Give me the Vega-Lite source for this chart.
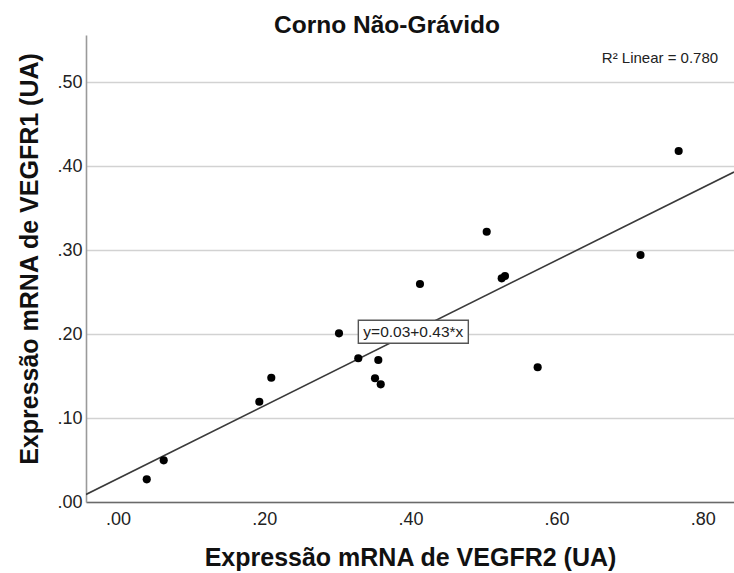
{
  "$schema": "https://vega.github.io/schema/vega-lite/v6.json",
  "autosize": {"type": "none"},
  "width": 648,
  "height": 467,
  "padding": {"left": 86, "top": 35, "right": 0, "bottom": 71},
  "background": "white",
  "config": {
    "font": "Liberation Sans",
    "view": {"stroke": null},
    "title": {"font": "Liberation Sans", "fontSize": 24.5, "fontWeight": "bold", "color": "#111", "anchor": "middle", "frame": "group"}
  },
  "title": {"text": "Corno Não-Grávido", "dx": -23, "dy": 9, "offset": 6},
  "datasets": {
    "pontos": [
      {"vegfr2": 0.0393, "vegfr1": 0.0270},
      {"vegfr2": 0.0625, "vegfr1": 0.0496},
      {"vegfr2": 0.1933, "vegfr1": 0.1194},
      {"vegfr2": 0.2097, "vegfr1": 0.1480},
      {"vegfr2": 0.3023, "vegfr1": 0.2008},
      {"vegfr2": 0.3287, "vegfr1": 0.1711},
      {"vegfr2": 0.3561, "vegfr1": 0.1690},
      {"vegfr2": 0.3516, "vegfr1": 0.1473},
      {"vegfr2": 0.3594, "vegfr1": 0.1401},
      {"vegfr2": 0.4131, "vegfr1": 0.2595},
      {"vegfr2": 0.5044, "vegfr1": 0.3218},
      {"vegfr2": 0.5249, "vegfr1": 0.2663},
      {"vegfr2": 0.5294, "vegfr1": 0.2690},
      {"vegfr2": 0.5741, "vegfr1": 0.1604},
      {"vegfr2": 0.7148, "vegfr1": 0.2940},
      {"vegfr2": 0.7670, "vegfr1": 0.4179}
    ],
    "ajuste": [
      {"vegfr2": -0.0438, "vegfr1": 0.0090},
      {"vegfr2": 0.8427, "vegfr1": 0.3929}
    ]
  },
  "layer": [
    {
      "data": {"name": "ajuste"},
      "mark": {"type": "line", "color": "#3a3a3a", "strokeWidth": 1.6, "clip": true},
      "encoding": {
        "x": {
          "field": "vegfr2", "type": "quantitative",
          "scale": {"domain": [-0.0438, 0.8427], "nice": false, "zero": false},
          "axis": {
            "title": "Expressão mRNA de VEGFR2 (UA)",
            "values": [0, 0.2, 0.4, 0.6, 0.8],
            "labelExpr": "substring(format(datum.value, '.2f'), 1)",
            "grid": false, "ticks": false,
            "domainColor": "#6a6a6a", "domainWidth": 1.6,
            "labelFont": "Liberation Sans", "labelFontSize": 18, "labelColor": "#222", "labelPadding": 8,
            "titleFont": "Liberation Sans", "titleFontSize": 25, "titleFontWeight": "bold", "titleColor": "#111",
            "titleBaseline": "alphabetic", "titleY": 63
          }
        },
        "y": {
          "field": "vegfr1", "type": "quantitative",
          "scale": {"domain": [0, 0.556], "nice": false},
          "axis": {
            "title": "Expressão mRNA de VEGFR1 (UA)",
            "values": [0, 0.1, 0.2, 0.3, 0.4, 0.5],
            "labelExpr": "substring(format(datum.value, '.2f'), 1)",
            "grid": true, "gridColor": "#d2d2d2", "gridWidth": 1.6,
            "ticks": false,
            "domainColor": "#9a9a9a", "domainWidth": 1.6,
            "labelFont": "Liberation Sans", "labelFontSize": 18, "labelColor": "#222", "labelPadding": 4,
            "titleFont": "Liberation Sans", "titleFontSize": 25, "titleFontWeight": "bold", "titleColor": "#111",
            "titleBaseline": "alphabetic", "titleX": -49, "titleY": 223.5
          }
        }
      }
    },
    {
      "data": {"name": "pontos"},
      "mark": {"type": "point", "shape": "circle", "filled": true, "color": "#000", "opacity": 1, "size": 66},
      "encoding": {
        "x": {"field": "vegfr2", "type": "quantitative"},
        "y": {"field": "vegfr1", "type": "quantitative"}
      }
    },
    {
      "data": {"values": [{}]},
      "mark": {"type": "point", "shape": "M-1,-0.209H1V0.209H-1Z", "size": 12100, "filled": false, "fill": "white", "fillOpacity": 1, "stroke": "#555", "strokeWidth": 1.4, "opacity": 1},
      "encoding": {
        "x": {"datum": 0.404, "type": "quantitative"},
        "y": {"datum": 0.2027, "type": "quantitative"}
      }
    },
    {
      "data": {"values": [{}]},
      "mark": {"type": "text", "text": "y=0.03+0.43*x", "font": "Liberation Sans", "fontSize": 15.5, "color": "#222", "align": "center", "baseline": "middle"},
      "encoding": {
        "x": {"datum": 0.404, "type": "quantitative"},
        "y": {"datum": 0.2027, "type": "quantitative"}
      }
    },
    {
      "data": {"values": [{}]},
      "mark": {"type": "text", "text": "R² Linear = 0.780", "font": "Liberation Sans", "fontSize": 15, "color": "#222", "align": "right", "baseline": "alphabetic"},
      "encoding": {
        "x": {"datum": 0.821, "type": "quantitative"},
        "y": {"datum": 0.523, "type": "quantitative"}
      }
    }
  ]
}
